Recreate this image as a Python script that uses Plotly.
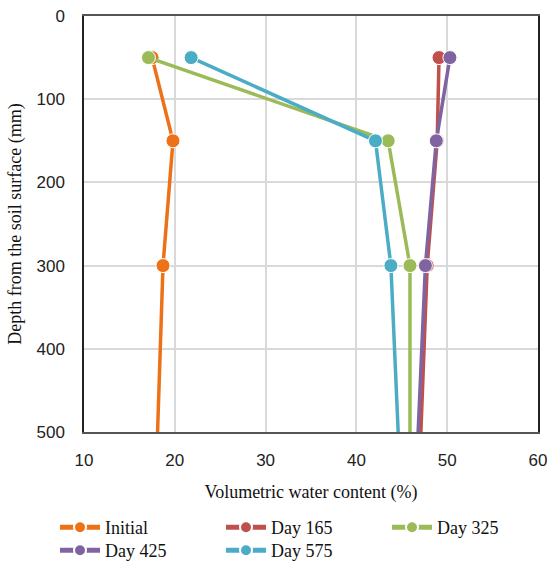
import plotly.graph_objects as go

depth = [50, 150, 300, 500]
series_names = ["Initial", "Day 165", "Day 325", "Day 425", "Day 575"]
initial = [17.5, 19.8, 18.7, 18.1]
day165 = [49.1, 48.9, 47.8, 47.1]
day325 = [17.1, 43.5, 45.9, 45.9]
day425 = [50.3, 48.8, 47.6, 46.8]
day575 = [21.8, 42.1, 43.8, 44.6]
colors = ["#ED7117", "#C0504D", "#9BBB59", "#8064A2", "#4BACC6"]
values = [initial, day165, day325, day425, day575]
x_ticks = [10, 20, 30, 40, 50, 60]
y_ticks = [0, 100, 200, 300, 400, 500]

# legend slot of each series: (column, row)
legend_slots = [(0, 0), (1, 0), (2, 0), (0, 1), (1, 1)]
legend_ids = ["legend", "legend2", "legend3", "legend4", "legend5"]

fig = go.Figure()
for name, vals, col, lid in zip(series_names, values, colors, legend_ids):
    fig.add_trace(go.Scatter(
        x=vals, y=depth, name=name, mode="lines+markers",
        line=dict(color=col, width=3.5),
        marker=dict(color=col, size=[14, 14, 14, 0], opacity=1),
        legend=lid, showlegend=True,
    ))

legend_layout = {}
for lid, (c, r) in zip(legend_ids, legend_slots):
    legend_layout[lid] = dict(
        orientation="h", xref="container", yref="container",
        x=(55 + 166 * c) / 552, y=1 - (509 + 23 * r) / 563,
        xanchor="left", yanchor="top", itemsizing="constant", itemwidth=40,
        font=dict(family="Liberation Serif", size=18, color="#111"),
        bgcolor="rgba(0,0,0,0)",
    )

fig.update_layout(
    width=552, height=563, showlegend=True,
    margin=dict(l=84, r=14, t=16, b=131, autoexpand=False),
    plot_bgcolor="white", paper_bgcolor="white",
    font=dict(family="Liberation Sans", size=17, color="#222"),
    xaxis=dict(range=[10, 60], tickvals=x_ticks, showgrid=True, gridcolor="#d9d9d9",
               gridwidth=1.5, showline=True, linecolor="#555", linewidth=1.5, mirror=True,
               zeroline=False, ticks="outside", ticklen=12, tickcolor="rgba(0,0,0,0)",
               title=dict(text="Volumetric water content (%)",
                          font=dict(family="Liberation Serif", size=18, color="#111"),
                          standoff=16)),
    yaxis=dict(range=[500, 0], tickvals=y_ticks, showgrid=True, gridcolor="#d9d9d9",
               gridwidth=1.5, showline=True, linecolor="#222", linewidth=1.5, mirror=True,
               zeroline=False, ticks="outside", ticklen=14, tickcolor="rgba(0,0,0,0)",
               title=dict(text="Depth from the soil surface (mm)",
                          font=dict(family="Liberation Serif", size=18, color="#111"),
                          standoff=10)),
    **legend_layout,
)
fig.write_html("out.html")
